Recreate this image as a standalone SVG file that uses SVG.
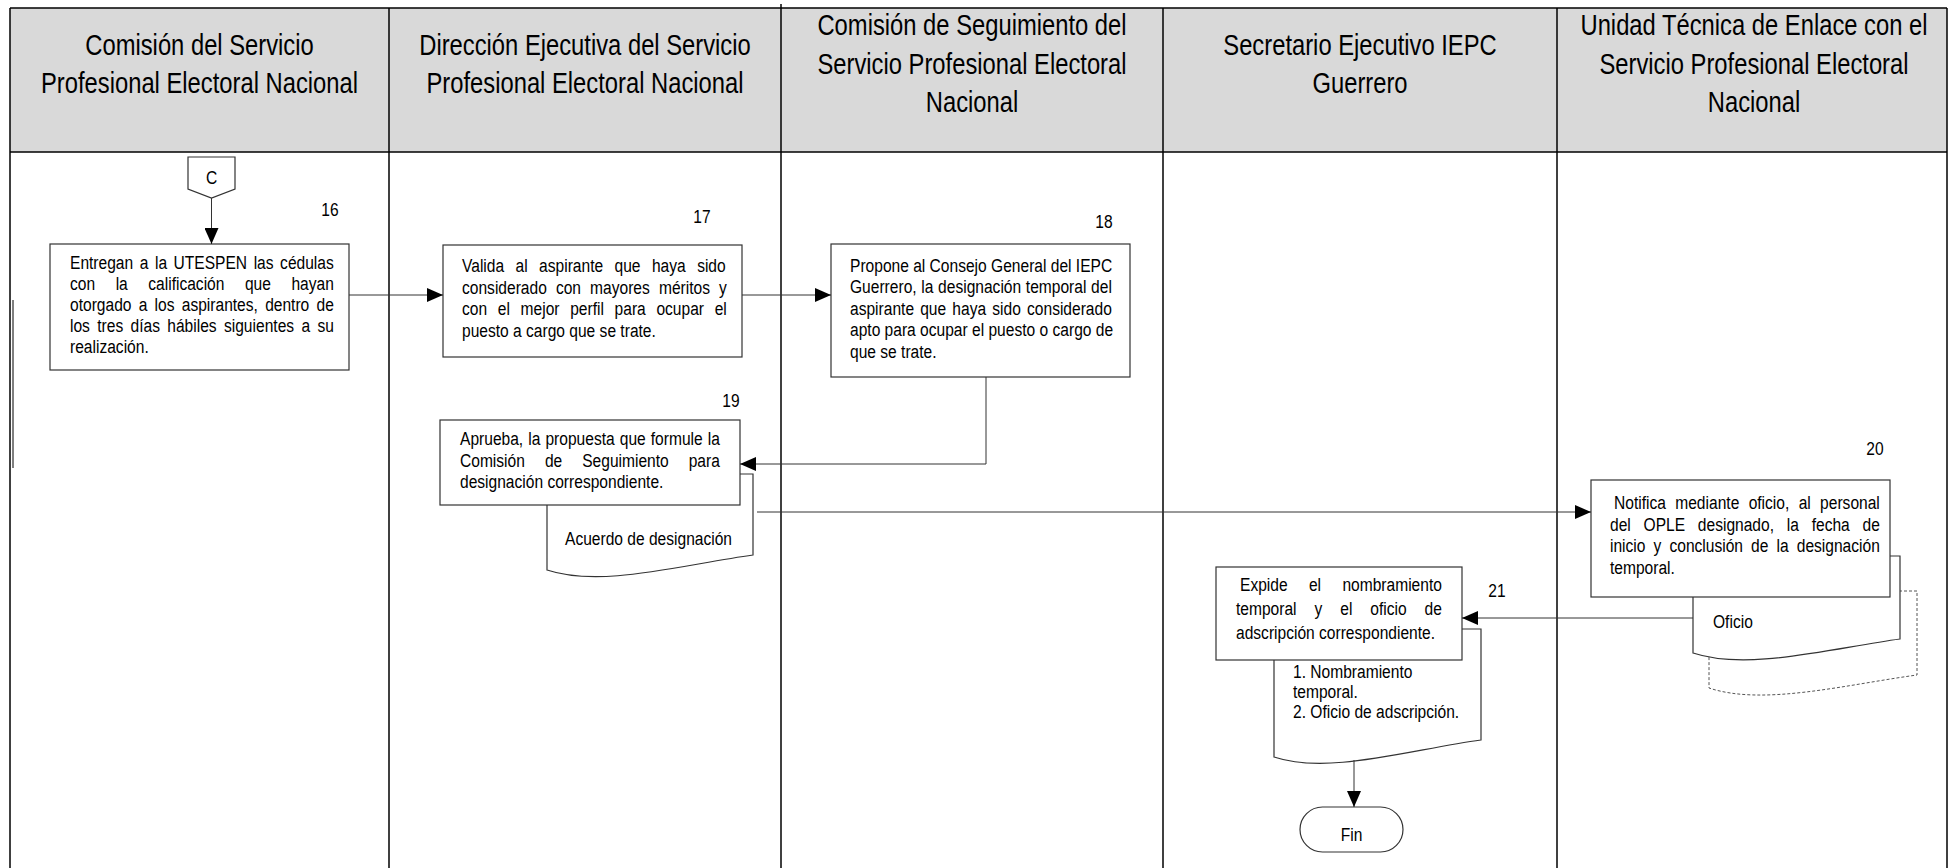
<svg xmlns="http://www.w3.org/2000/svg" width="1951" height="868" viewBox="0 0 1951 868">
<style>
.hdr{font-family:"Liberation Sans",Arial,sans-serif;font-size:29px;fill:#000;text-anchor:middle}
.t{font-family:"Liberation Sans",Arial,sans-serif;font-size:19px;fill:#000}
.n{font-family:"Liberation Sans",Arial,sans-serif;font-size:19px;fill:#000;text-anchor:middle}
.box{fill:#fff;stroke:#333;stroke-width:1.2}
.doc{fill:#fff;stroke:#333;stroke-width:1.2}
.ddoc{fill:#fff;stroke:#555;stroke-width:1;stroke-dasharray:3 2}
.lane{fill:none;stroke:#000;stroke-width:1.5}
.conn{fill:none;stroke:#333;stroke-width:1}
</style>
<defs>
<marker id="ah" markerUnits="userSpaceOnUse" markerWidth="16" markerHeight="14" refX="16" refY="7" orient="auto">
<path d="M0,0 L16,7 L0,14 Z" fill="#000"/>
</marker>
</defs>

<g id="lanes">
<rect x="10" y="8" width="1937" height="144" fill="#d9d9d9"/>
<rect x="10" y="152" width="1937" height="716" fill="#fff"/>
<line class="lane" x1="10" y1="8" x2="1947" y2="8"/>
<line class="lane" x1="10" y1="152" x2="1947" y2="152"/>
<line class="lane" x1="10" y1="8" x2="10" y2="868"/>
<line class="lane" x1="1947" y1="8" x2="1947" y2="868"/>
<line class="lane" x1="389" y1="8" x2="389" y2="868"/>
<line class="lane" x1="781" y1="4" x2="781" y2="868"/>
<line class="lane" x1="1163" y1="8" x2="1163" y2="868"/>
<line class="lane" x1="1557" y1="8" x2="1557" y2="868"/>
<line x1="13" y1="300" x2="13" y2="468" stroke="#000" stroke-width="1"/>
<text class="hdr" transform="translate(199.5,55) scale(0.82,1)">Comisión del Servicio</text>
<text class="hdr" transform="translate(199.5,93) scale(0.82,1)">Profesional Electoral Nacional</text>
<text class="hdr" transform="translate(585,55) scale(0.82,1)">Dirección Ejecutiva del Servicio</text>
<text class="hdr" transform="translate(585,93) scale(0.82,1)">Profesional Electoral Nacional</text>
<text class="hdr" transform="translate(972,35) scale(0.82,1)">Comisión de Seguimiento del</text>
<text class="hdr" transform="translate(972,73.5) scale(0.82,1)">Servicio Profesional Electoral</text>
<text class="hdr" transform="translate(972,112) scale(0.82,1)">Nacional</text>
<text class="hdr" transform="translate(1360,55) scale(0.82,1)">Secretario Ejecutivo IEPC</text>
<text class="hdr" transform="translate(1360,93) scale(0.82,1)">Guerrero</text>
<text class="hdr" transform="translate(1754,35) scale(0.82,1)">Unidad Técnica de Enlace con el</text>
<text class="hdr" transform="translate(1754,73.5) scale(0.82,1)">Servicio Profesional Electoral</text>
<text class="hdr" transform="translate(1754,112) scale(0.82,1)">Nacional</text>
</g>

<g id="node-C">
<path class="box" d="M188,157 H235 V189 L211.5,198 L188,189 Z"/>
<text class="n" transform="translate(211.5,184) scale(0.82,1)">C</text>
</g>

<g id="node-16">
<text class="n" transform="translate(330,216) scale(0.82,1)">16</text>
<rect class="box" x="50" y="244" width="299" height="126"/>
<text class="t" transform="translate(70,269) scale(0.82,1)" word-spacing="2.71">Entregan a la UTESPEN las cédulas</text>
<text class="t" transform="translate(70,290) scale(0.82,1)" word-spacing="19.76">con la calificación que hayan</text>
<text class="t" transform="translate(70,311) scale(0.82,1)" word-spacing="3.56">otorgado a los aspirantes, dentro de</text>
<text class="t" transform="translate(70,332) scale(0.82,1)" word-spacing="3.68">los tres días hábiles siguientes a su</text>
<text class="t" transform="translate(70,353) scale(0.82,1)">realización.</text>
</g>

<g id="node-17">
<text class="n" transform="translate(702,223) scale(0.82,1)">17</text>
<rect class="box" x="443" y="245" width="299" height="112"/>
<text class="t" transform="translate(462,272) scale(0.82,1)" word-spacing="8.66">Valida al aspirante que haya sido</text>
<text class="t" transform="translate(462,293.5) scale(0.82,1)" word-spacing="5.83">considerado con mayores méritos y</text>
<text class="t" transform="translate(462,315) scale(0.82,1)" word-spacing="7.74">con el mejor perfil para ocupar el</text>
<text class="t" transform="translate(462,336.5) scale(0.82,1)">puesto a cargo que se trate.</text>
</g>

<g id="node-18">
<text class="n" transform="translate(1104,228) scale(0.82,1)">18</text>
<rect class="box" x="831" y="244" width="299" height="133"/>
<text class="t" transform="translate(850,271.5) scale(0.82,1)">Propone al Consejo General del IEPC</text>
<text class="t" transform="translate(850,293) scale(0.82,1)" word-spacing="0.43">Guerrero, la designación temporal del</text>
<text class="t" transform="translate(850,314.5) scale(0.82,1)" word-spacing="2.26">aspirante que haya sido considerado</text>
<text class="t" transform="translate(850,336) scale(0.82,1)">apto para ocupar el puesto o cargo de</text>
<text class="t" transform="translate(850,357.5) scale(0.82,1)">que se trate.</text>
</g>

<g id="node-19">
<text class="n" transform="translate(731,407) scale(0.82,1)">19</text>
<path class="doc" d="M547,474 H753 V555 C681,565 601,588 547,570 Z"/>
<text class="t" transform="translate(565,545) scale(0.82,1)">Acuerdo de designación</text>
<rect class="box" x="440" y="420" width="300" height="85"/>
<text class="t" transform="translate(460,445) scale(0.82,1)" word-spacing="0.9">Aprueba, la propuesta que formule la</text>
<text class="t" transform="translate(460,466.5) scale(0.82,1)" word-spacing="19.11">Comisión de Seguimiento para</text>
<text class="t" transform="translate(460,488) scale(0.82,1)">designación correspondiente.</text>
</g>

<g id="node-20">
<text class="n" transform="translate(1875,455) scale(0.82,1)">20</text>
<path class="ddoc" d="M1709,591 H1917 V675 C1844,685 1763,706 1709,688 Z"/>
<path class="doc" d="M1693,556 H1900 V639 C1828,649 1747,671 1693,653 Z"/>
<text class="t" transform="translate(1713,628) scale(0.82,1)">Oficio</text>
<rect class="box" x="1591" y="480" width="299" height="117"/>
<text class="t" transform="translate(1614,509) scale(0.82,1)" word-spacing="6.12">Notifica mediante oficio, al personal</text>
<text class="t" transform="translate(1610,530.5) scale(0.82,1)" word-spacing="10.3">del OPLE designado, la fecha de</text>
<text class="t" transform="translate(1610,552) scale(0.82,1)" word-spacing="4.6">inicio y conclusión de la designación</text>
<text class="t" transform="translate(1610,573.5) scale(0.82,1)">temporal.</text>
</g>

<g id="node-21">
<text class="n" transform="translate(1497,597) scale(0.82,1)">21</text>
<path class="doc" d="M1274,629 H1481 V740 C1408.5,750 1328,775 1274,757 Z"/>
<text class="t" transform="translate(1293,678) scale(0.82,1)">1. Nombramiento</text>
<text class="t" transform="translate(1293,698) scale(0.82,1)">temporal.</text>
<text class="t" transform="translate(1293,718) scale(0.82,1)">2. Oficio de adscripción.</text>
<rect class="box" x="1216" y="567" width="246" height="93"/>
<text class="t" transform="translate(1240,591) scale(0.82,1)" word-spacing="20.76">Expide el nombramiento</text>
<text class="t" transform="translate(1236,615) scale(0.82,1)" word-spacing="16.61">temporal y el oficio de</text>
<text class="t" transform="translate(1236,639) scale(0.82,1)">adscripción correspondiente.</text>
</g>

<g id="node-fin">
<rect class="box" x="1300" y="807" width="103" height="45" rx="22.5"/>
<text class="n" transform="translate(1351.5,841) scale(0.82,1)">Fin</text>
</g>

<g id="connectors">
<path class="conn" d="M211.5,198 V244" marker-end="url(#ah)"/>
<path class="conn" d="M349,295 H443" marker-end="url(#ah)"/>
<path class="conn" d="M742,295 H831" marker-end="url(#ah)"/>
<path class="conn" d="M986,377 V464 H740" marker-end="url(#ah)"/>
<path class="conn" d="M757,512 H1591" marker-end="url(#ah)"/>
<path class="conn" d="M1693,618 H1462" marker-end="url(#ah)"/>
<path class="conn" d="M1354,760 V807" marker-end="url(#ah)"/>
</g>
</svg>
